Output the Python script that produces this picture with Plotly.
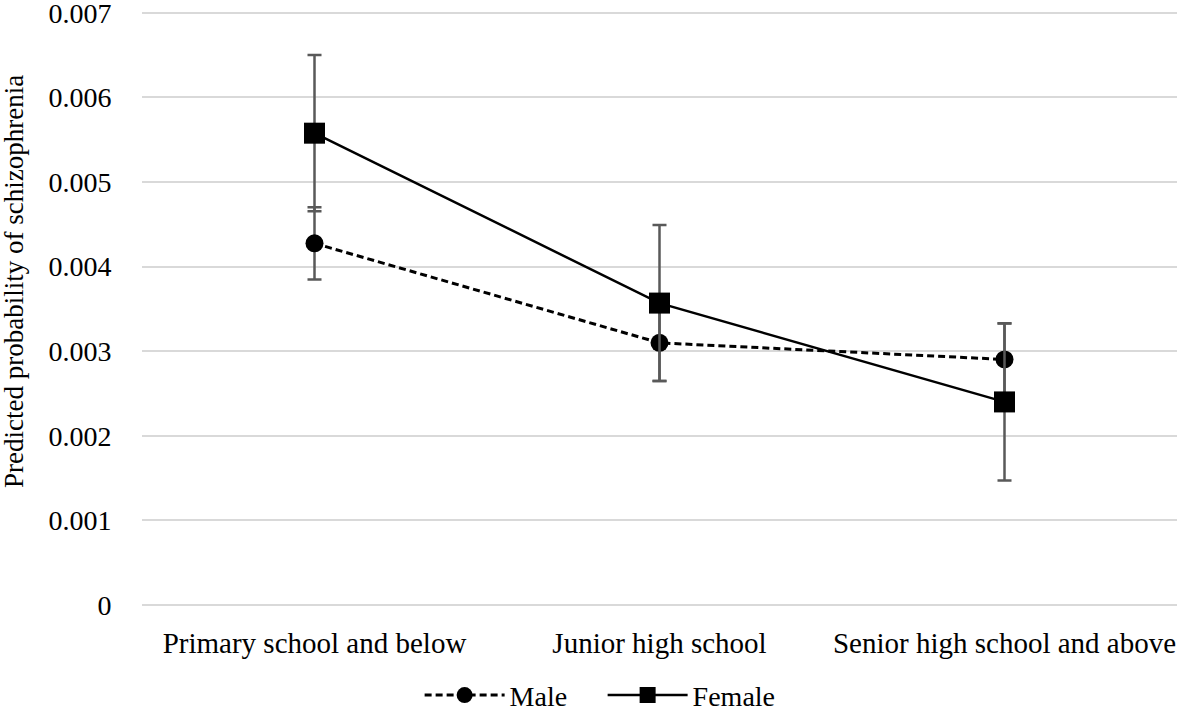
import plotly.graph_objects as go

categories = ["Primary school and below", "Junior high school", "Senior high school and above"]
male_values = [0.004274, 0.003098, 0.002902]
male_errors = [0.000427, 0.000451, 0.000424]
female_values = [0.005576, 0.003568, 0.002400]
female_errors = [0.000924, 0.000922, 0.000930]
y_tick_values = [0, 0.001, 0.002, 0.003, 0.004, 0.005, 0.006, 0.007]
y_tick_labels = ["0", "0.001", "0.002", "0.003", "0.004", "0.005", "0.006", "0.007"]
y_title = "Predicted probability of schizophrenia"

FONT = "Liberation Serif, Times New Roman, serif"
ERR_COLOR = "#595959"

fig = go.Figure()
fig.add_trace(go.Scatter(
    x=categories, y=male_values, name="Male", mode="lines+markers",
    line=dict(color="black", width=3, dash="7px,4px"),
    marker=dict(symbol="circle", size=18, color="black"),
    error_y=dict(type="data", array=male_errors, visible=True,
                 color=ERR_COLOR, thickness=2.5, width=7),
))
fig.add_trace(go.Scatter(
    x=categories, y=female_values, name="Female", mode="lines+markers",
    line=dict(color="black", width=2.5),
    marker=dict(symbol="square", size=21, color="black"),
    error_y=dict(type="data", array=female_errors, visible=True,
                 color=ERR_COLOR, thickness=2.5, width=7),
))

fig.update_layout(
    width=1177, height=711,
    margin=dict(l=142, r=0, t=11, b=106, autoexpand=False),
    paper_bgcolor="white", plot_bgcolor="white",
    font=dict(family=FONT, size=28, color="black"),
    showlegend=True,
    legend=dict(orientation="h", xref="container", yref="container",
                x=0.512, xanchor="center", y=0.022, yanchor="middle",
                font=dict(size=28), itemwidth=80,
                entrywidth=88, entrywidthmode="pixels",
                bgcolor="rgba(0,0,0,0)"),
    xaxis=dict(type="category", range=[-0.5, 2.5], showgrid=False,
               showline=False, zeroline=False, automargin=False,
               ticks="outside", ticklen=12, tickcolor="rgba(0,0,0,0)",
               tickfont=dict(size=29, family=FONT)),
    yaxis=dict(range=[0, 0.00702], tickvals=y_tick_values, ticktext=y_tick_labels,
               showgrid=True, gridcolor="#d9d9d9", gridwidth=2,
               zeroline=True, zerolinecolor="#d9d9d9", zerolinewidth=2,
               showline=False, ticklabeloverflow="allow", automargin=False,
               ticks="outside", ticklen=24, tickcolor="rgba(0,0,0,0)",
               tickfont=dict(size=28, family=FONT)),
    annotations=[dict(text=y_title, textangle=-90, showarrow=False,
                      xref="paper", yref="paper",
                      x=-(142 - 14) / 1035, y=(605 - 282) / 594,
                      xanchor="center", yanchor="middle",
                      font=dict(size=27, family=FONT, color="black"))],
)

fig.write_html("out.html", config={"displayModeBar": False},
               post_script="document.body.style.margin='0';document.body.style.overflow='hidden';")
